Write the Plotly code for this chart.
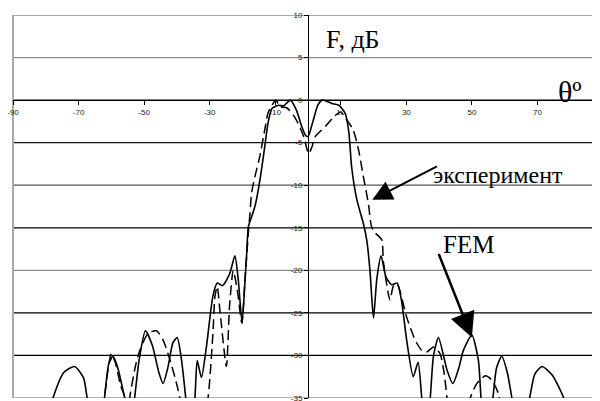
import plotly.graph_objects as go

# FEM (solid) pattern, degrees / dB
fem_theta = [-81, -77.8, -74.5, -71.2, -68.5, -67.4, -65, -62.1, -60.8, -59.5, -58, -56.5, -55.9, -54.5,
             -52.9, -51.5, -49.6, -47.5, -45.5, -44.2, -42.8, -41.2, -39.9, -38.6, -37.3, -36,
             -34.5, -33.8, -32.5, -31, -29, -27.7, -26.1, -23.9, -22.3, -21.3, -20.1, -19.2, -18.7,
             -18.2, -17.2, -16.2, -15.2, -14.2, -13.2, -12.2, -11, -9, -7.5, -5.4, -3.5, -2, -0.8,
             0, 1.5, 3, 4.3, 7.3, 9.4, 11.4, 12.5, 13.3, 14.9, 16.9, 17.9, 18.9, 19.5, 20, 21,
             22.3, 23.8, 25.5, 27.2, 28.5, 30.1, 32.1, 33.6, 34.7, 36, 37.3, 38.3, 39.8, 42.4,
             44.2, 46, 47.4, 50, 52, 52.8, 54.5, 56.4, 57.5, 59.1, 60.8, 62.2, 64.5, 67.6, 69.2,
             71.4, 74.5, 78, 80]
fem_db = [-40, -35, -32, -31.3, -32.6, -35, -42, -35, -31, -30.1, -31.5, -34, -35, -40,
          -35, -30.5, -27.1, -28.8, -32, -33.3, -31.5, -28.5, -27.9, -30.5, -35, -40,
          -35, -30.6, -32.6, -29, -23, -21.5, -21.8, -20.4, -18.3, -21, -26.2, -21.1, -18,
          -14.9, -13.7, -12.5, -10.6, -8.2, -5.5, -2.7, -1, -0.6, -0.7, 0, -1.2, -3, -4.1,
          -4.3, -2.5, -0.6, 0, -0.4, -0.6, -1.6, -3.9, -7.8, -11.7, -14.5, -16.4, -20, -23.5, -25.6, -21,
          -18.3, -20.8, -21.7, -21.5, -23.5, -28.2, -32.5, -30.8, -35, -40, -35, -30, -27.9, -31.7,
          -33.3, -31.5, -29.4, -27.6, -30.6, -35, -40, -35, -31.5, -30.1, -32, -35, -40, -35, -32.2,
          -31.3, -32.3, -35, -38]

# Experiment (dashed) pattern
exp_theta = [-62.8, -61.5, -60, -58.8, -57.2, -55.8, -55, -54.4, -52.5, -51.3, -48.8, -46.2, -44.2,
             -42.2, -40.1, -39.1, -37, -34, -30.5, -29, -28.4, -27.7, -26.8, -24.9, -23.9, -22.8,
             -21.5, -20.2, -19.2, -18.2, -17.7, -17.2, -16.2, -14.7, -13.2, -12.2, -10.6, -9.8,
             -8.5, -6.5, -4.4, -2.8, -1.3, 0.2, 1.2, 2.2, 5.3, 7.8, 9.9, 11.8, 13.8, 15.4, 16.9,
             18.4, 19.4, 20.5, 22.5, 23, 25, 26, 27.2, 30.1, 32.7, 34.7, 36.2, 38.3, 40.3, 41.5,
             42.4, 43.5, 46, 49.5, 51.5, 54.1, 56.1, 58.1, 59]
exp_db = [-38, -33, -29.8, -30.8, -33.5, -35, -38, -35, -31, -29.4, -27.4, -27.1, -28.2,
          -30.4, -33.3, -35, -40, -42, -35, -27.4, -23.1, -21.9, -25, -31.3, -24, -20,
          -22.5, -26.2, -21, -15.6, -13.3, -10.9, -9, -6.6, -3.5, -1.5, -0.35, 0,
          -0.8, -0.9, -1.8, -2.9, -4.3, -6.3, -5.5, -4.3, -3.1, -2.0, -1.4, -2.3, -3.5, -5.8, -9,
          -12.1, -14.9, -15.6, -16.4, -19, -23.5, -21.9, -21.6, -25.5, -28.2, -29.4, -29.6, -29, -29.8, -32,
          -35, -40, -42, -35, -33.3, -32.4, -32.9, -34.5, -37]

x_ticks = [-90, -70, -50, -30, -10, 10, 30, 50, 70, 90]
y_ticks = [10, 5, 0, -5, -10, -15, -20, -25, -30, -35]

fig = go.Figure()
fig.add_trace(go.Scatter(x=exp_theta, y=exp_db, mode="lines",
                         line=dict(color="black", width=1.5, dash="10px,5px", shape="spline", smoothing=0.6),
                         showlegend=False))
fig.add_trace(go.Scatter(x=fem_theta, y=fem_db, mode="lines",
                         line=dict(color="black", width=1.6, shape="spline", smoothing=0.6),
                         showlegend=False))

grid_colors = {10: "#8a8a8a", 5: "#8a8a8a", 0: "#000000", -5: "#111111", -10: "#555555",
               -15: "#000000", -20: "#8a8a8a", -25: "#000000", -30: "#000000", -35: "#9a9a9a"}
for v in y_ticks:
    fig.add_shape(type="line", xref="paper", x0=0, x1=1, yref="y", y0=v, y1=v,
                  line=dict(color=grid_colors[v], width=1.3), layer="below")
fig.add_shape(type="line", xref="paper", x0=0, x1=0, yref="paper", y0=0, y1=1,
              line=dict(color="#aaaaaa", width=2), layer="below")

tickfont = dict(family="Liberation Sans, Arial", size=8, color="#222")
# the page body keeps its default 8px margin, so the figure is offset by 8px; margins compensate
fig.update_layout(
    width=600, height=401,
    margin=dict(l=5, r=5, t=7, b=11),
    plot_bgcolor="white", paper_bgcolor="white",
    xaxis=dict(range=[-90, 90], tickvals=x_ticks, ticktext=[str(v) for v in x_ticks],
               showgrid=False, zeroline=False, showline=True, linecolor="black", linewidth=1,
               anchor="free", position=35 / 45, ticks="outside", ticklen=4, tickcolor="black",
               tickfont=tickfont, automargin=False, ticklabeloverflow="allow"),
    yaxis=dict(range=[-35, 10], tickvals=y_ticks, ticktext=[str(v) for v in y_ticks],
               showgrid=False, zeroline=False, showline=True, linecolor="black", linewidth=1,
               anchor="free", position=0.5, ticks="outside", ticklen=4, tickcolor="black",
               tickfont=tickfont, automargin=False, ticklabeloverflow="allow"),
)

serif = "Liberation Serif, Times New Roman, serif"
fig.add_annotation(x=5.0, y=7.1, text="F, дБ", showarrow=False, xanchor="left", yanchor="middle",
                   font=dict(family=serif, size=26, color="black"))
fig.add_annotation(x=75.8, y=1.0, text="θº", showarrow=False, xanchor="left", yanchor="middle",
                   font=dict(family=serif, size=30, color="black"))
fig.add_annotation(x=37.6, y=-8.8, text="эксперимент", showarrow=False, xanchor="left", yanchor="middle",
                   font=dict(family=serif, size=24, color="black"))
fig.add_annotation(x=40.6, y=-17.0, text="FEM", showarrow=False, xanchor="left", yanchor="middle",
                   font=dict(family=serif, size=25, color="black"))
fig.add_annotation(x=19.6, y=-11.7, ax=39.8, ay=-7.7, axref="x", ayref="y", text="",
                   showarrow=True, arrowhead=2, arrowsize=2, arrowwidth=2, arrowcolor="black")
fig.add_annotation(x=50.0, y=-27.9, ax=39.7, ay=-17.9, axref="x", ayref="y", text="",
                   showarrow=True, arrowhead=2, arrowsize=2, arrowwidth=2.5, arrowcolor="black")

fig.write_html("out.html")
